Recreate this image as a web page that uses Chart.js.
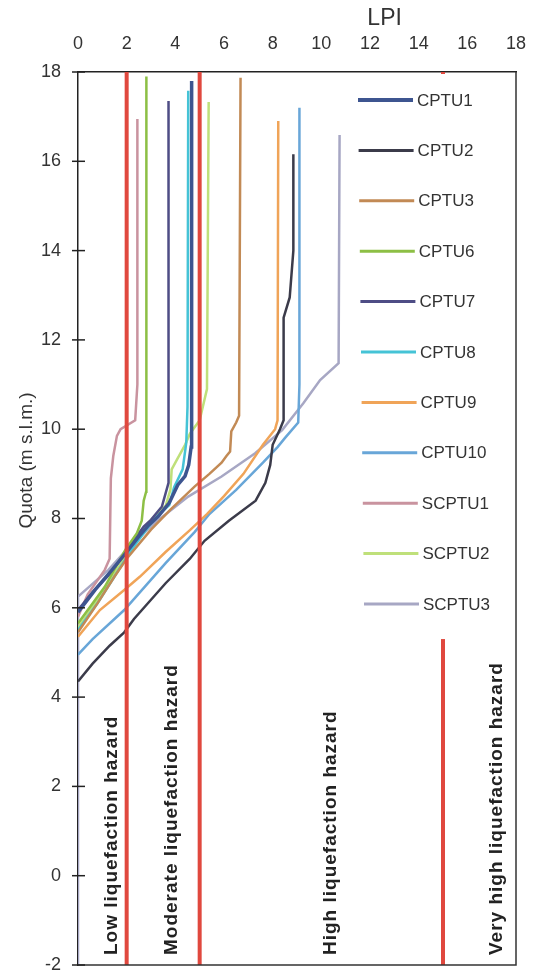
<!DOCTYPE html>
<html>
<head>
<meta charset="utf-8">
<title>LPI vs Quota</title>
<script src="https://cdn.jsdelivr.net/npm/chart.js@4.4.1/dist/chart.umd.min.js"></script>
<style>
  html, body { margin: 0; padding: 0; background: #fff; }
  #wrap { width: 539px; height: 973px; }
</style>
</head>
<body>
<div id="wrap"><canvas id="lpiChart" width="539" height="973"></canvas></div>
<script>
// LPI profiles: [LPI, quota (m s.l.m.)]

const CPTU1 = [[0, 5.9], [0.7, 6.4], [1.4, 6.85], [2.0, 7.25], [2.5, 7.6], [2.9, 7.85], [3.3, 8.05], [3.75, 8.35], [4.1, 8.75], [4.4, 8.95], [4.55, 9.2], [4.65, 9.6], [4.67, 17.8]];
const CPTU2 = [[0, 4.35], [0.6, 4.75], [1.3, 5.15], [1.9, 5.45], [2.3, 5.75], [3.6, 6.55], [4.6, 7.1], [5.2, 7.5], [6.2, 7.95], [7.3, 8.4], [7.7, 8.8], [7.9, 9.2], [8.0, 9.65], [8.3, 10.0], [8.45, 10.2], [8.45, 12.5], [8.7, 12.95], [8.85, 14.0], [8.85, 16.16]];
const CPTU3 = [[0, 5.45], [0.8, 6.1], [1.5, 6.7], [2.0, 7.1], [3.0, 7.75], [3.8, 8.2], [4.8, 8.72], [5.4, 9.0], [5.9, 9.25], [6.1, 9.4], [6.25, 9.5], [6.3, 9.95], [6.5, 10.15], [6.62, 10.3], [6.68, 17.87]];
const CPTU6 = [[0, 5.65], [1.1, 6.47], [1.95, 7.3], [2.42, 7.67], [2.62, 7.95], [2.7, 8.4], [2.8, 8.6], [2.81, 17.9]];
const CPTU7 = [[0, 5.95], [0.6, 6.35], [1.3, 6.75], [1.9, 7.2], [2.4, 7.6], [2.7, 7.82], [3.0, 7.97], [3.45, 8.27], [3.72, 8.8], [3.72, 17.35]];
const CPTU8 = [[0, 5.5], [0.8, 6.1], [1.5, 6.7], [2.2, 7.3], [2.8, 7.75], [3.25, 8.05], [3.75, 8.3], [3.95, 8.7], [4.3, 9.1], [4.45, 9.7], [4.5, 10.5], [4.53, 17.58]];
const CPTU9 = [[0, 5.35], [0.9, 5.95], [1.9, 6.4], [2.55, 6.7], [3.6, 7.25], [4.6, 7.74], [5.3, 8.1], [6.0, 8.5], [6.8, 9.0], [7.6, 9.65], [8.1, 10.0], [8.2, 10.2], [8.23, 16.9]];
const CPTU10 = [[0, 4.95], [0.6, 5.3], [1.9, 5.95], [3.6, 7.0], [4.8, 7.7], [5.4, 8.1], [6.5, 8.64], [7.6, 9.25], [8.2, 9.6], [8.5, 9.8], [9.05, 10.15], [9.1, 11.0], [9.1, 17.2]];
const SCPTU1 = [[0, 5.8], [0.4, 6.3], [1.1, 6.85], [1.3, 7.1], [1.35, 8.9], [1.45, 9.4], [1.6, 9.85], [1.75, 10.0], [2.35, 10.2], [2.44, 11.0], [2.44, 16.95]];
const SCPTU2 = [[0, 5.55], [0.9, 6.25], [1.95, 7.15], [2.7, 7.8], [3.2, 8.08], [3.6, 8.28], [3.8, 8.65], [3.85, 9.1], [4.05, 9.3], [4.4, 9.65], [4.6, 9.9], [5.0, 10.2], [5.3, 10.9], [5.37, 17.33]];
const SCPTU3 = [[0, -2], [0, 6.25], [1.25, 6.85], [1.93, 7.26], [3.15, 7.9], [4.53, 8.49], [5.9, 8.94], [7.28, 9.46], [8.39, 9.98], [9.26, 10.58], [9.95, 11.1], [10.71, 11.48], [10.75, 16.59]];

const seriesNames = ["CPTU1", "CPTU2", "CPTU3", "CPTU6", "CPTU7", "CPTU8", "CPTU9", "CPTU10", "SCPTU1", "SCPTU2", "SCPTU3"];
const seriesData = [CPTU1, CPTU2, CPTU3, CPTU6, CPTU7, CPTU8, CPTU9, CPTU10, SCPTU1, SCPTU2, SCPTU3];

// hazard class thresholds (LPI) and class names
const thresholdLpi = [2, 5, 15];
const hazardNames = ["Low liquefaction hazard", "Moderate liquefaction hazard", "High liquefaction hazard", "Very high liquefaction hazard"];

// axis ranges / ticks
const lpiRange = [0, 18];
const quotaRange = [-2, 18];
const tickStep = 2;

// styles
const seriesColors = ["#3d5590", "#3b3b4a", "#c28a55", "#8dbf45", "#4e4d85", "#45c3d6", "#f0a458", "#68a6d8", "#c9939f", "#bfe07a", "#a7a7c4"];
const seriesWidths = [3.5, 2.5, 2.5, 2.5, 2.5, 2.5, 2.5, 2.5, 2.5, 2.5, 2.5];
const redColor = "#e0483e";
const fontFamily = "'Liberation Sans', Arial, sans-serif";

/* =========================================
   DATASETS
========================================= */
const datasets = [];

// threshold lines first, so they sit on top of the curves
thresholdLpi.forEach(v => {
  datasets.push({
    label: "_threshold",
    data: [{ x: v, y: quotaRange[0] }, { x: v, y: quotaRange[1] }],
    borderColor: redColor,
    borderWidth: 4,
    pointRadius: 0,
    showLine: true,
    fill: false
  });
});

seriesNames.forEach((name, i) => {
  datasets.push({
    label: name,
    data: seriesData[i].map(p => ({ x: p[0], y: p[1] })),
    borderColor: seriesColors[i],
    borderWidth: seriesWidths[i],
    pointRadius: 0,
    showLine: true,
    fill: false,
    tension: 0
  });
});

/* =========================================
   DECORATIONS: legend box, hazard labels,
   frame, tick crosses, axis titles
========================================= */
const decorPlugin = {
  id: "decor",
  afterDatasetsDraw(chart) {
    const ctx = chart.ctx;
    const area = chart.chartArea;
    const xs = chart.scales.x;
    const ys = chart.scales.y;

    ctx.save();

    // legend sits inside the plot, on a white box that hides the 15 line
    const boxLeft = xs.getPixelForValue(11.2);
    const boxTop = area.top + 2;
    const boxBottom = ys.getPixelForValue(5.3);
    ctx.fillStyle = "#fff";
    ctx.fillRect(boxLeft, boxTop, area.right - 2 - boxLeft, boxBottom - boxTop);

    ctx.font = "17px " + fontFamily;
    ctx.textAlign = "left";
    ctx.textBaseline = "middle";
    seriesNames.forEach((name, i) => {
      const y = area.top + 28 + i * 50.4;
      const x0 = 358 + i * 0.6;
      ctx.strokeStyle = seriesColors[i];
      ctx.lineWidth = seriesWidths[i] + 0.5;
      ctx.beginPath();
      ctx.moveTo(x0, y);
      ctx.lineTo(x0 + 55, y);
      ctx.stroke();
      ctx.fillStyle = "#333";
      ctx.fillText(name, x0 + 59, y + 1);
    });

    // frame: right and bottom sides
    ctx.strokeStyle = "#333";
    ctx.lineWidth = 1.5;
    ctx.beginPath();
    ctx.moveTo(area.right, area.top);
    ctx.lineTo(area.right, area.bottom);
    ctx.lineTo(area.left, area.bottom);
    ctx.stroke();

    // y tick crosses
    ctx.strokeStyle = "#222";
    ctx.lineWidth = 1.5;
    for (let v = quotaRange[0]; v <= quotaRange[1]; v += tickStep) {
      const y = ys.getPixelForValue(v);
      ctx.beginPath();
      ctx.moveTo(area.left - 6, y);
      ctx.lineTo(area.left + 7, y);
      ctx.stroke();
    }

    // hazard class labels, vertical
    const labelLpi = [1.4, 3.85, 10.4, 17.2];
    ctx.font = "bold 19px " + fontFamily;
    ctx.letterSpacing = "1px";
    ctx.fillStyle = "#222";
    ctx.textAlign = "left";
    ctx.textBaseline = "middle";
    hazardNames.forEach((txt, i) => {
      ctx.save();
      ctx.translate(xs.getPixelForValue(labelLpi[i]), area.bottom - 10);
      ctx.rotate(-Math.PI / 2);
      ctx.fillText(txt, 0, 0);
      ctx.restore();
    });
    ctx.letterSpacing = "0px";

    // axis titles
    ctx.fillStyle = "#333";
    ctx.textAlign = "center";
    ctx.font = "23px " + fontFamily;
    ctx.fillText("LPI", xs.getPixelForValue(12.6), 19);

    ctx.save();
    ctx.font = "19px " + fontFamily;
    ctx.translate(27, ys.getPixelForValue(9.3));
    ctx.rotate(-Math.PI / 2);
    ctx.fillText("Quota (m s.l.m.)", 0, 0);
    ctx.restore();

    ctx.restore();
  }
};

/* =========================================
   CHART
========================================= */
const tickFont = { family: fontFamily, size: 18 };

new Chart(document.getElementById("lpiChart").getContext("2d"), {
  type: "scatter",
  data: { datasets },
  options: {
    responsive: false,
    animation: false,
    devicePixelRatio: 1,
    layout: { autoPadding: false, padding: { left: 0, top: 0, right: 23, bottom: 8 } },
    plugins: {
      legend: { display: false },
      tooltip: { enabled: false }
    },
    scales: {
      x: {
        type: "linear",
        position: "top",
        min: lpiRange[0],
        max: lpiRange[1],
        ticks: { stepSize: tickStep, color: "#333", font: tickFont, padding: 17 },
        grid: { display: true, drawOnChartArea: false, drawTicks: false },
        border: { display: true, color: "#222", width: 1.5 },
        afterFit: scale => {
          scale.height = 72;
          scale.paddingLeft = 0;
          scale.paddingRight = 0;
        }
      },
      y: {
        type: "linear",
        min: quotaRange[0],
        max: quotaRange[1],
        ticks: { stepSize: tickStep, color: "#333", font: tickFont, padding: 17 },
        grid: { display: true, drawOnChartArea: false, drawTicks: false },
        border: { display: true, color: "#222", width: 1.5 },
        afterFit: scale => {
          scale.width = 78;
          scale.paddingTop = 0;
          scale.paddingBottom = 0;
        }
      }
    }
  },
  plugins: [decorPlugin]
});
</script>
</body>
</html>
